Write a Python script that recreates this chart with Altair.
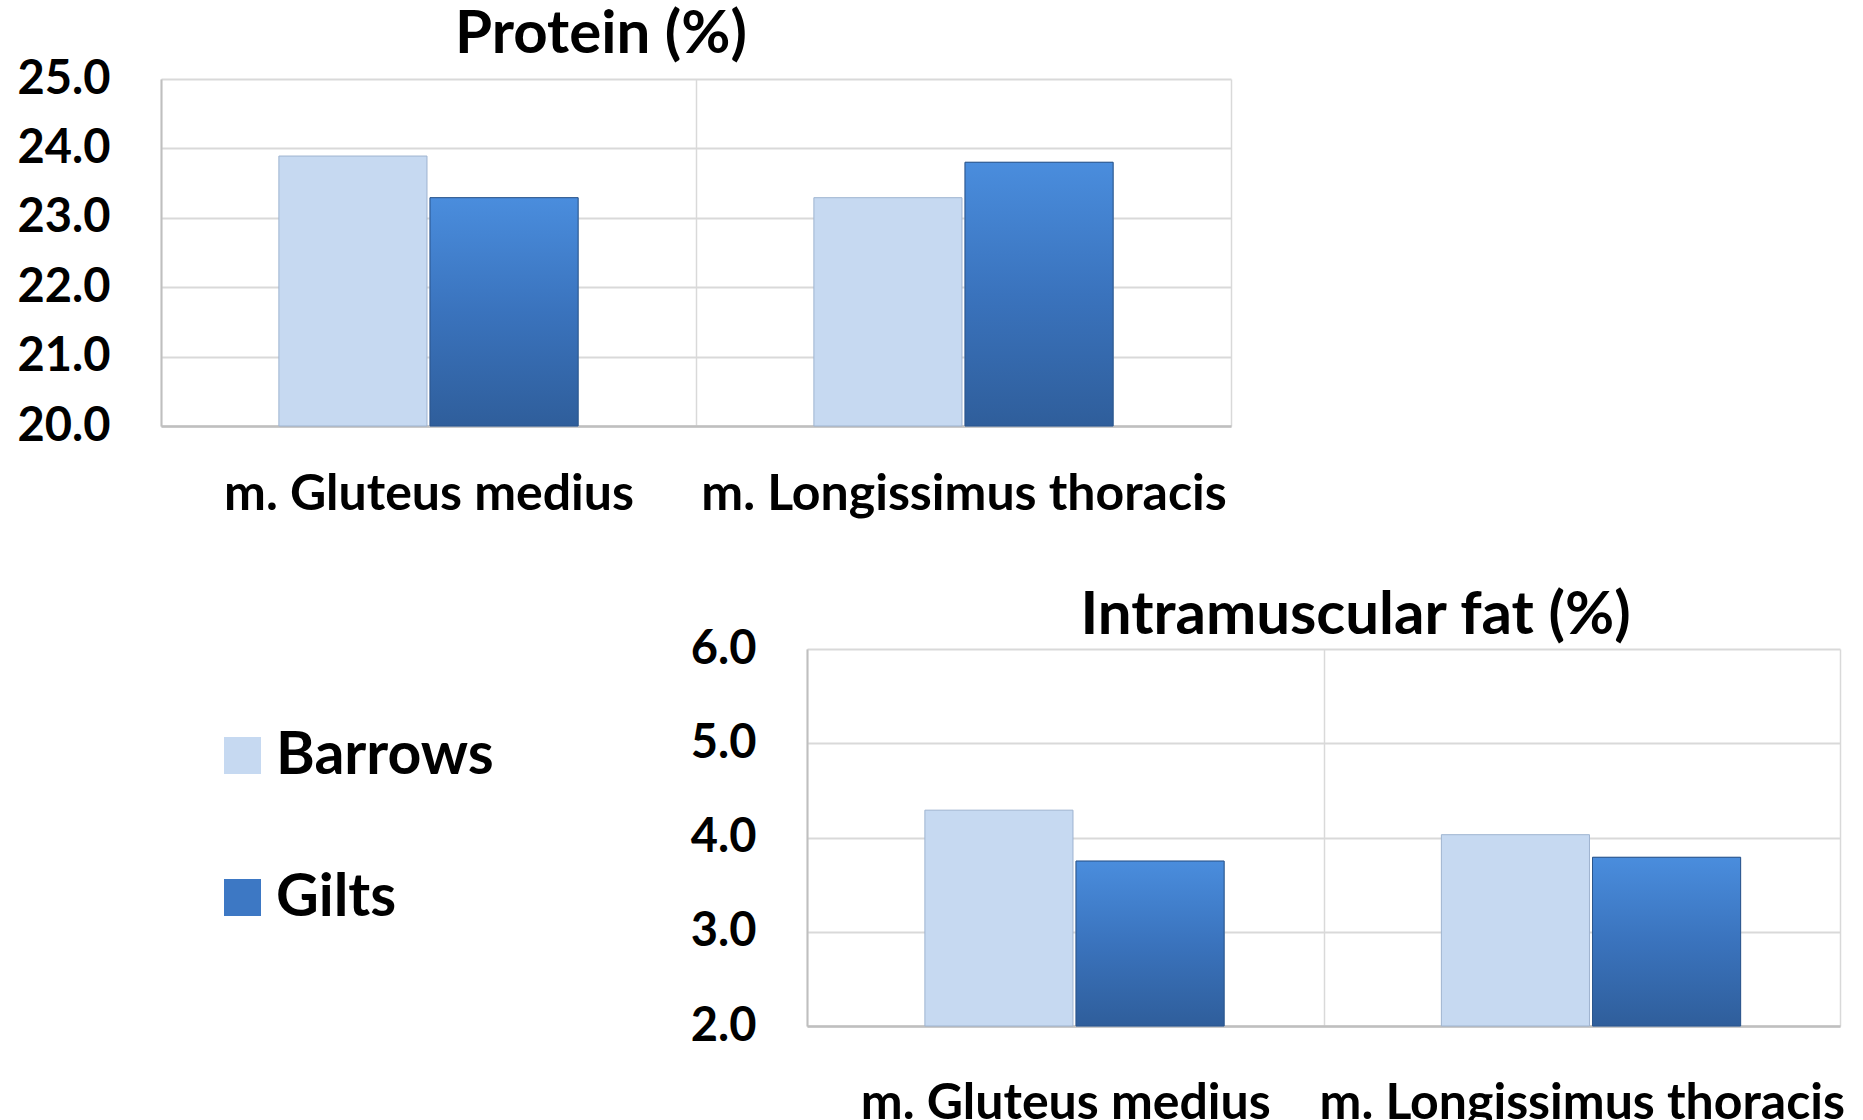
import altair as alt
import pandas as pd

# ---------------- data ----------------
muscles = ["m. Gluteus medius", "m. Longissimus thoracis"]
groups = ["Barrows", "Gilts"]

protein_barrows = [23.89, 23.29]
protein_gilts = [23.29, 23.80]
protein_ticks = [20.0, 21.0, 22.0, 23.0, 24.0, 25.0]

imf_barrows = [4.29, 4.03]
imf_gilts = [3.75, 3.79]
imf_ticks = [2.0, 3.0, 4.0, 5.0, 6.0]

group_colors = ["#c6d9f1", "#3d78c4"]

FONT = "Lato"


def frame(barrows, gilts):
    rows = []
    for m, vb, vg in zip(muscles, barrows, gilts):
        rows.append({"muscle": m, "group": groups[0], "value": vb})
        rows.append({"muscle": m, "group": groups[1], "value": vg})
    return pd.DataFrame(rows)


gilts_fill = alt.LinearGradient(
    gradient="linear",
    stops=[alt.GradientStop(color="#4a8ddd", offset=0),
           alt.GradientStop(color="#3a73bd", offset=0.5),
           alt.GradientStop(color="#2f5e9b", offset=1)],
    x1=0, x2=0, y1=0, y2=1,
)


def panel(df, ticks, title, width, height, title_dx, title_offset, xlabel_pad):
    lo, hi = ticks[0], ticks[-1]
    x = alt.X(
        "muscle:N", sort=muscles,
        scale=alt.Scale(paddingInner=0, paddingOuter=0),
        axis=alt.Axis(title=None, labelAngle=0, tickBand="extent", grid=True,
                      gridColor="#d9d9d9", gridWidth=1.5, ticks=False, tickSize=0,
                      domainColor="#bfbfbf", domainWidth=2.5, labelLimit=0,
                      labelPadding=xlabel_pad, labelFont=FONT, labelFontSize=50,
                      labelFontWeight="bold", labelColor="#000000"),
    )
    xo = alt.XOffset("group:N", sort=groups,
                     scale=alt.Scale(domain=groups, paddingOuter=0.78, paddingInner=0.02))
    y = alt.Y(
        "value:Q",
        scale=alt.Scale(domain=[lo, hi], nice=False, zero=False),
        axis=alt.Axis(title=None, values=ticks, format=".1f", grid=True,
                      gridColor="#d9d9d9", gridWidth=2, ticks=False, tickSize=0,
                      domainColor="#bfbfbf", domainWidth=2,
                      labelPadding=51, labelFont=FONT, labelFontSize=47,
                      labelFontWeight="bold", labelColor="#000000"),
    )
    base = alt.Chart(df).encode(x=x, xOffset=xo, y=y, y2=alt.datum(lo))
    bars = base.mark_bar(stroke="#9fb4d0", strokeWidth=1).encode(
        color=alt.Color("group:N", sort=groups,
                        scale=alt.Scale(domain=groups, range=group_colors),
                        legend=alt.Legend(title=None))
    )
    gilts = base.transform_filter(alt.datum.group == groups[1]).mark_bar(
        color=gilts_fill, stroke="#2a558c", strokeWidth=1
    )
    return alt.layer(bars, gilts).properties(
        width=width, height=height,
        title=alt.TitleParams(title, dx=title_dx, font=FONT, fontSize=60,
                              fontWeight="bold", color="#000000", anchor="middle",
                              frame="group", baseline="alphabetic",
                              offset=title_offset),
    )


top = panel(frame(protein_barrows, protein_gilts), protein_ticks, "Protein (%)",
            1070, 347, -95, -58, 43)
bottom = panel(frame(imf_barrows, imf_gilts), imf_ticks, "Intramuscular fat (%)",
               1033, 377, 32, -69, 52)

spacer = alt.Chart(pd.DataFrame({"a": [0]})).mark_point(opacity=0).encode(
    x=alt.value(10), y=alt.value(5)
).properties(width=517, height=10)

chart = alt.vconcat(
    top,
    alt.hconcat(spacer, bottom, spacing=12),
    spacing=67,
).properties(
    padding={"left": 17, "top": 5, "right": 0, "bottom": 0},
    background="#ffffff",
).configure_view(stroke=None, fill=None).configure_legend(
    orient="none", legendX=52, legendY=647,
    symbolType="square", symbolSize=1369, symbolStrokeWidth=0,
    labelFont=FONT, labelFontSize=59, labelFontWeight="bold", labelColor="#000000",
    labelOffset=4, rowPadding=82, labelLimit=0,
)

chart.save("out.html", embed_options={"renderer": "svg", "actions": False})
